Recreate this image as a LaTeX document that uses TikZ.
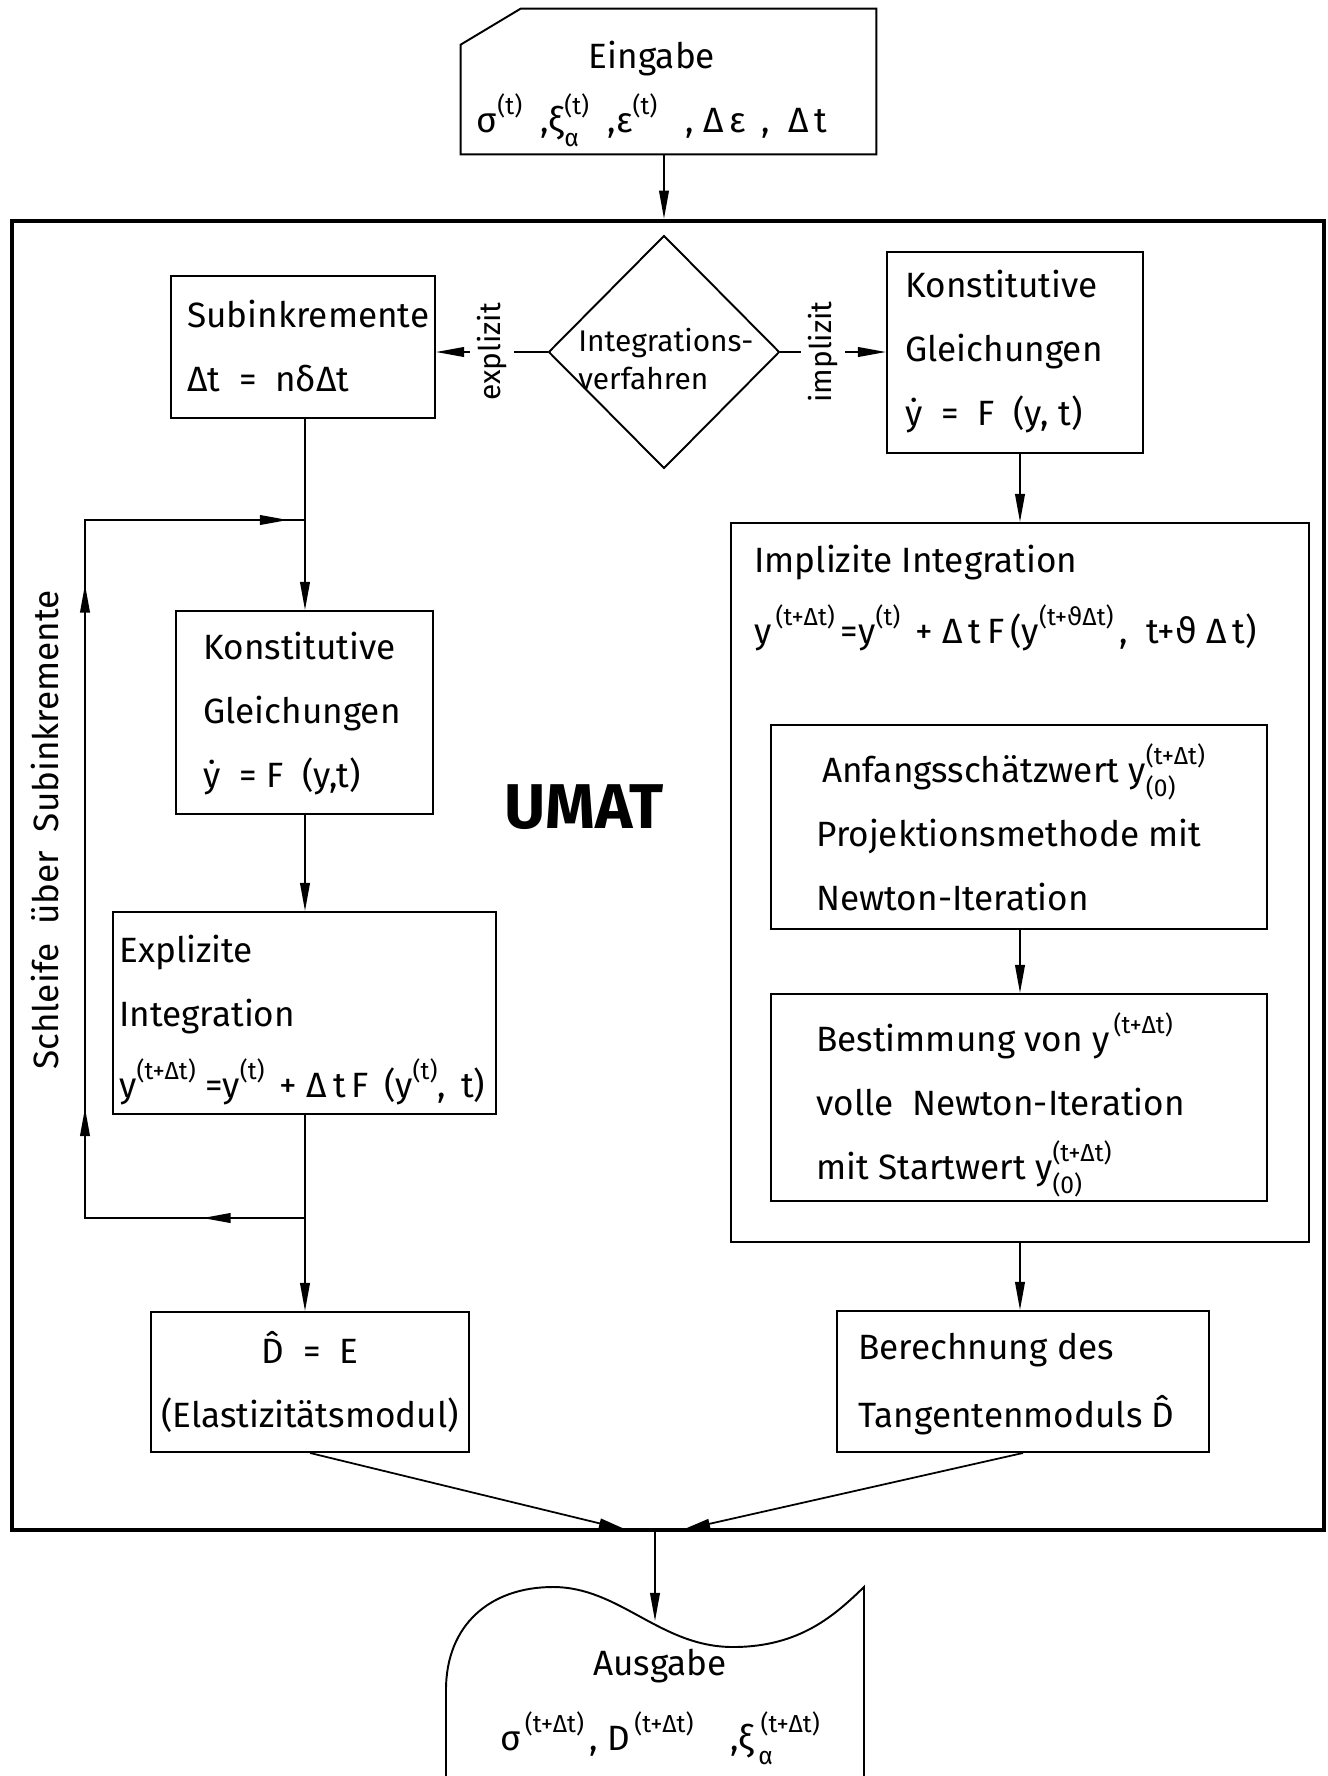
\documentclass[tikz,border=0pt]{standalone}
\usepackage{amsmath}
\usepackage{fontspec}
\setmainfont{Fira Sans}
\newfontfamily\thetafont{DejaVu Sans}
\usetikzlibrary{arrows.meta,shapes.geometric,fit,calc,decorations.markings}

\newcommand{\pu}{0.02cm}
\newcommand{\scrsize}{\fontsize{14}{14}\selectfont}
\newcommand{\supx}[1]{\raisebox{0.5em}{\scrsize #1}}
\newcommand{\supsub}[2]{\rlap{\raisebox{-0.4em}{\scrsize #2}}\raisebox{0.5em}{\scrsize #1}}
\newcommand{\vth}{{\thetafont ϑ}}

\tikzset{
  txt/.style={anchor=base west, align=left, inner sep=0pt, font=\fontsize{20}{36.4}\selectfont},
  txtc/.style={txt, anchor=base, align=center},
  lbl/.style={fill=white, inner sep=4pt, font=\fontsize{17}{20}\selectfont},
  box/.style={draw, line width=1.1pt, inner sep=0pt},
  frame/.style={draw, line width=2.6pt, inner sep=0pt},
  conn/.style={line width=1pt},
  loopmarks/.style={conn, postaction={decorate}, decoration={markings,
      mark=at position 0.09 with {\arrow{>}},
      mark=at position 0.29 with {\arrow{>}},
      mark=at position 0.75 with {\arrow{>}},
      mark=at position 0.985 with {\arrow{>}}}},
  >={Triangle[length=16pt,width=5.5pt]}
}

\begin{document}
\begin{tikzpicture}[x=0.02cm, y=-0.02cm]
  \useasboundingbox (0,0) rectangle (1328,1776);

  % Eingabe (base = last line)
  \node[inner sep=0pt, fit={(461,9) (876,154)}] (ein) {};
  \draw[line width=1.1pt] (ein.south west) -- ($(ein.north west)+(0,36)$) -- ($(ein.north west)+(60,0)$)
    -- (ein.north east) -- (ein.south east) -- cycle;
  \node[txtc] (eintxt) at (652,132) {Eingabe\\σ\supx{(t)} \ ,ξ\supsub{(t)}{α} \ ,ε\supx{(t)} \ \ , Δ\,ε \,, \ Δ\,t};

  % UMAT frame
  \node[frame, fit={(12,221) (1324,1530)}] (umat) {};
  \node[font=\fontsize{36}{40}\selectfont\bfseries] (umatlbl) at (584,807) {UMAT};

  \node[draw, diamond, line width=1.1pt, inner sep=0pt, minimum width=231*\pu, minimum height=233*\pu] (dia) at (664,352) {};
  \node[txt, font=\fontsize{17}{21.6}\selectfont] (diatxt) at (578,389) {Integrations-\\verfahren};

  % boxes
  \node[box, fit={(171,276) (435,418)}] (subk) {};
  \node[txt] (subktxt) at (187,391) {Subinkremente\\Δt \ = \ nδΔt};

  \node[box, fit={(887,252) (1143,453)}] (konstR) {};
  \node[txt] (konstRtxt) at (905,425) {Konstitutive\\Gleichungen\\\.y \ = \ F \ (y, t)};

  \node[box, fit={(731,523) (1309,1242)}] (impl) {};
  \node[txt] (impltxt) at (754,643) {Implizite Integration\\[4pt]y\supx{\,(t+Δt)}\,=y\supx{(t)} \,+ Δ\,t\,F\,(y\supx{(t+\vth Δt)}\,, \ t+\vth\ Δ\,t)};

  \node[box, fit={(771,725) (1267,929)}] (anf) {};
  \node[txt] (anftxt) at (816,910) {\,Anfangsschätzwert y\supsub{(t+Δt)}{(0)}\\Projektionsmethode mit\\Newton-Iteration};

  \node[box, fit={(771,994) (1267,1201)}] (best) {};
  \node[txt] (besttxt) at (816,1179) {Bestimmung von y\supx{\,(t+Δt)}\\volle \ Newton-Iteration\\mit Startwert y\supsub{(t+Δt)}{(0)}};

  \node[box, fit={(837,1311) (1209,1452)}] (ber) {};
  \node[txt] (bertxt) at (858,1427) {Berechnung des\\[2pt]Tangentenmoduls \^D};

  \node[box, fit={(176,611) (433,814)}] (konstL) {};
  \node[txt] (konstLtxt) at (203,787) {Konstitutive\\Gleichungen\\\.y \ = F \ (y,t)};

  \node[box, fit={(113,912) (496,1114)}] (expl) {};
  \node[txt] (expltxt) at (119,1097) {Explizite\\Integration\\[4pt]y\supx{(t+Δt)} =y\supx{(t)} \,+ Δ\,t\,F \,(y\supx{(t)}, \,t)};

  \node[box, fit={(151,1312) (469,1452)}] (dE) {};
  \node[txtc] (dEtxt) at (310,1427) {\^D \ = \ E\\(Elastizitätsmodul)};

  \node[rotate=90, font=\fontsize{20}{24}\selectfont] (looplbl) at (45,830) {Schleife \ über \ Subinkremente};

  % Ausgabe
  \draw[line width=1.1pt] (446,1776) -- (446,1690) .. controls (446,1625) and (490,1587) .. (553,1587)
    .. controls (620,1587) and (660,1647) .. (733,1647) .. controls (800,1647) and (835,1615) .. (864,1587) -- (864,1776);
  \node[txtc] (aus) at (660,1750) {Ausgabe\\[6pt]σ\supx{\,(t+Δt)}\,, D\supx{\,(t+Δt)} \ \ \ ,ξ\supsub{\ (t+Δt)}{\,α}};

  % connectors
  \coordinate (jt) at (305,520);
  \coordinate (jb) at (305,1218);
  \coordinate (lp) at (85,800);
  \coordinate (rx) at (1020,500);
  \coordinate (cl) at (627,1530);
  \coordinate (cr) at (682,1530);
  \coordinate (ain) at (655,1621);

  \draw[conn, ->] (ein.south -| dia) -- (dia |- umat.north);
  \draw[conn, ->] (dia.west) -- (dia.west -| subk.east) node[midway, lbl, rotate=90] {explizit};
  \draw[conn, ->] (dia.east) -- (dia.east -| konstR.west) node[pos=0.4, lbl, rotate=90] {implizit};

  \draw[conn] (jt |- subk.south) -- (jt);
  \draw[conn, ->] (jt) -- (jt |- konstL.north);
  \draw[conn, ->] (jt |- konstL.south) -- (jt |- expl.north);
  \draw[conn] (jt |- expl.south) -- (jb);
  \draw[conn, ->] (jb) -- (jb |- dE.north);
  \draw[loopmarks] (jb) -| (lp) |- (jt);

  \draw[conn, ->] (rx |- konstR.south) -- (rx |- impl.north);
  \draw[conn, ->] (rx |- anf.south) -- (rx |- best.north);
  \draw[conn, ->] (rx |- impl.south) -- (rx |- ber.north);

  \draw[conn, ->] (dE.south) -- (cl);
  \draw[conn, ->] (ber.south) -- (cr);
  \draw[conn, ->] (umat.south -| ain) -- (ain);
\end{tikzpicture}
\end{document}
